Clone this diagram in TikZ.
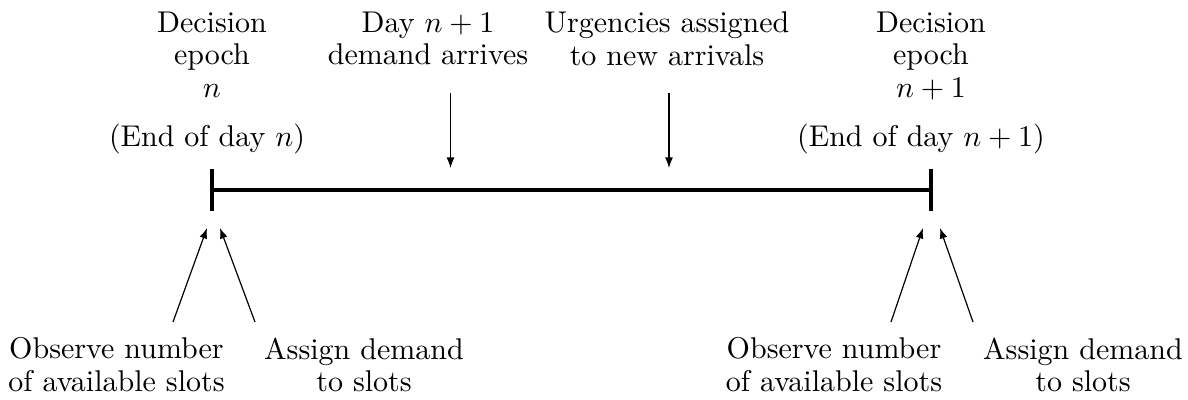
\documentclass[tikz,border=0pt]{standalone}
\usetikzlibrary{arrows.meta}
\begin{document}
\begin{tikzpicture}[x=0.3333pt,y=-0.3333pt,
  lbl/.style={align=center, inner sep=0pt, anchor=north, font=\fontsize{10}{10.8}\selectfont},
  tline/.style={line width=1.1pt},
  tick/.style={line width=1.3pt},
  arr/.style={-{Latex[length=3.5pt,width=2.6pt]}, line width=0.4pt}]
\useasboundingbox (0,0) rectangle (1188,400);
% labels
\node[lbl] (de0) at (212,11.3) {Decision\\epoch\\$n$};
\node[lbl] (ed0) at (207,123.5) {(End of day $n$)};
\node[lbl] (dem) at (428,11.5) {Day $n+1$\\demand arrives};
\node[lbl] (urg) at (667,11.2) {Urgencies assigned\\to new arrivals};
\node[lbl] (de1) at (931,11.3) {Decision\\epoch\\$n+1$};
\node[lbl] (ed1) at (921,123.5) {(End of day $n+1$)};
\node[lbl] (obs0) at (116.5,337) {Observe number\\of available slots};
\node[lbl] (asg0) at (364,337) {Assign demand\\to slots};
\node[lbl] (obs1) at (834,337) {Observe number\\of available slots};
\node[lbl] (asg1) at (1083,337) {Assign demand\\to slots};
% timeline
\coordinate (t0) at (212,190);
\coordinate (t1) at (931,190);
\coordinate (t0a) at (212,169);
\coordinate (t0b) at (212,211);
\coordinate (t1a) at (931,169);
\coordinate (t1b) at (931,211);
\draw[tline] (t0) -- (t1);
\draw[tick] (t0a) -- (t0b);
\draw[tick] (t1a) -- (t1b);
% downward arrows
\coordinate (da0) at (450.5,93);
\coordinate (da1) at (450.5,168);
\coordinate (ua0) at (669,93);
\coordinate (ua1) at (669,168);
\draw[arr] (da0) -- (da1);
\draw[arr] (ua0) -- (ua1);
% upward arrows
\coordinate (o0s) at (173,322);
\coordinate (o0e) at (207,228);
\coordinate (a0s) at (255,322);
\coordinate (a0e) at (220,228);
\coordinate (o1s) at (891,322);
\coordinate (o1e) at (923,228);
\coordinate (a1s) at (973,322);
\coordinate (a1e) at (940,228);
\draw[arr] (o0s) -- (o0e);
\draw[arr] (a0s) -- (a0e);
\draw[arr] (o1s) -- (o1e);
\draw[arr] (a1s) -- (a1e);
\end{tikzpicture}
\end{document}
